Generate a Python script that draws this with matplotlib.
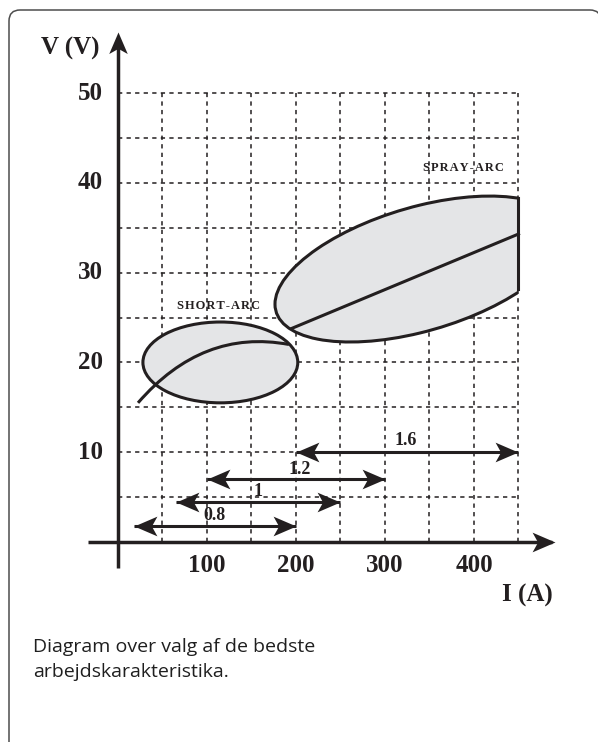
import numpy as np
import matplotlib
matplotlib.use("Agg")
import matplotlib.pyplot as plt
from matplotlib.patches import Ellipse, PathPatch, Rectangle
from matplotlib.path import Path

# wire diameters (mm) and the current range (A) each one covers
wire_sizes = ["0.8", "1", "1.2", "1.6"]
wire_start = [18, 65, 100, 200]
wire_end = [200, 250, 300, 450]
wire_level = [1.8, 4.45, 7.0, 10.0]
label_x = [108, 157, 204, 323]
label_y = [2.9, 5.6, 8.1, 11.25]

x_ticks = [100, 200, 300, 400]
y_ticks = [10, 20, 30, 40, 50]
grid_x = [50, 100, 150, 200, 250, 300, 350, 400, 450]
grid_y = [5, 10, 15, 20, 25, 30, 35, 40, 45, 50]

# short-arc area and its working curve
short_center = (115, 20)
short_width = 174
short_height = 9
short_curve = [(22.5, 15.5), (95, 23.8), (192, 22.0)]

# spray-arc area, cut off at 450 A
spray_center = (339.3, 30.4)
spray_width = 325.9
spray_height = 14.24
spray_angle = 1.378
spray_cut = 450
spray_cut_v = (28.2, 38.3)
spray_line_i = [195.5, 450]
spray_line_v = [23.8, 34.3]

caption = ["Diagram over valg af de bedste", "arbejdskarakteristika."]

ink = "#231f20"
fill = "#e4e5e7"
serif = "Liberation Serif"

fig = plt.figure(figsize=(5.98, 7.42), dpi=100)
ax = fig.add_axes([0, 0, 1, 1])
ax.set_xlim(-132.58, 539.33)
ax.set_ylim(-22.27, 60.36)
ax.axis("off")

# frame: left and top sides with rounded corners (pixel units)
fl, ft, fr, rad = 9, 732, 601, 11
frame_path = Path(
    [(fl, -5), (fl, ft - rad), (fl, ft), (fl + rad, ft), (fr - rad, ft),
     (fr, ft), (fr, ft - rad), (fr, -5)],
    [Path.MOVETO, Path.LINETO, Path.CURVE3, Path.CURVE3, Path.LINETO,
     Path.CURVE3, Path.CURVE3, Path.LINETO])
fig.patches.append(PathPatch(frame_path, transform=None, facecolor="none",
                             edgecolor="#4d4d4d", linewidth=1.1))

# dashed grid
for gx in grid_x:
    ax.plot([gx, gx], [0, 50], color=ink, lw=1.1, dashes=(2.8, 2.8), zorder=1)
for gy in grid_y:
    ax.plot([0, 450], [gy, gy], color=ink, lw=1.1, dashes=(2.8, 2.8), zorder=1)

# arrow heads with a notched back
head_r = Path([(0, 0), (-1, 0.43), (-0.76, 0), (-1, -0.43), (0, 0)],
              [Path.MOVETO, Path.LINETO, Path.LINETO, Path.LINETO, Path.CLOSEPOLY])
head_l = Path(head_r.vertices * [-1, 1], head_r.codes)
head_u = Path(head_r.vertices[:, ::-1], head_r.codes)

# axes
ax.plot([-33.7, 488], [0, 0], color=ink, lw=2.5, zorder=4, solid_capstyle="butt")
ax.plot([491], [0], marker=head_r, ms=33, color=ink, mew=0, zorder=4)
ax.plot([0, 0], [-2.9, 55], color=ink, lw=2.5, zorder=4, solid_capstyle="butt")
ax.plot([0], [56.8], marker=head_u, ms=31, color=ink, mew=0, zorder=4)

for t in x_ticks:
    ax.text(t, -2.6, str(t), ha="center", va="center", fontsize=18,
            fontweight="bold", family=serif, color=ink)
for t in y_ticks:
    ax.text(-16.9, t, str(t), ha="right", va="center", fontsize=18,
            fontweight="bold", family=serif, color=ink)
ax.text(-54, 55.0, "V (V)", ha="center", va="center", fontsize=18,
        fontweight="bold", family=serif, color=ink)
ax.text(460, -6.0, "I (A)", ha="center", va="center", fontsize=18,
        fontweight="bold", family=serif, color=ink)

# short-arc
short = Ellipse(short_center, short_width, short_height, facecolor=fill,
                edgecolor=ink, lw=2.2, zorder=2)
ax.add_patch(short)
curve = Path(short_curve, [Path.MOVETO, Path.CURVE3, Path.CURVE3])
ax.add_patch(PathPatch(curve, facecolor="none", edgecolor=ink, lw=2.2, zorder=3))
ax.text(112.4, 26.3, "\u200a".join("SHORT-ARC"), ha="center", va="center",
        fontsize=9, fontweight="bold", family=serif, color=ink)

# spray-arc
spray = Ellipse(spray_center, spray_width, spray_height, angle=spray_angle,
                facecolor=fill, edgecolor=ink, lw=2.2, zorder=2)
ax.add_patch(spray)
cut = Rectangle((0, 0), spray_cut, 60, transform=ax.transData)
spray.set_clip_path(cut)
ax.plot([spray_cut, spray_cut], spray_cut_v, color=ink, lw=2.2, zorder=3,
        solid_capstyle="projecting")
ax.plot(spray_line_i, spray_line_v, color=ink, lw=2.2, zorder=3)
ax.text(388, 41.6, "\u200a".join("SPRAY-ARC"), ha="center", va="center",
        fontsize=9, fontweight="bold", family=serif, color=ink)

# wire diameter ranges
for name, a, b, lv, lx, ly in zip(wire_sizes, wire_start, wire_end, wire_level,
                                  label_x, label_y):
    ax.plot([a, b], [lv, lv], color=ink, lw=2.2, zorder=5, solid_capstyle="butt")
    ax.plot([a], [lv], marker=head_l, ms=33, color=ink, mew=0, zorder=5)
    ax.plot([b], [lv], marker=head_r, ms=33, color=ink, mew=0, zorder=5)
    ax.text(lx, ly, name, ha="center", va="center", fontsize=13,
            fontweight="bold", family=serif, color=ink, zorder=6)

# caption under the chart
for k, line in enumerate(caption):
    fig.text(33 / 598, 1 - (652 + 25 * k) / 742, line, ha="left", va="baseline",
             fontsize=14, family="Open Sans", color="#1f1f1f")

fig.savefig("out.png", dpi=100)
